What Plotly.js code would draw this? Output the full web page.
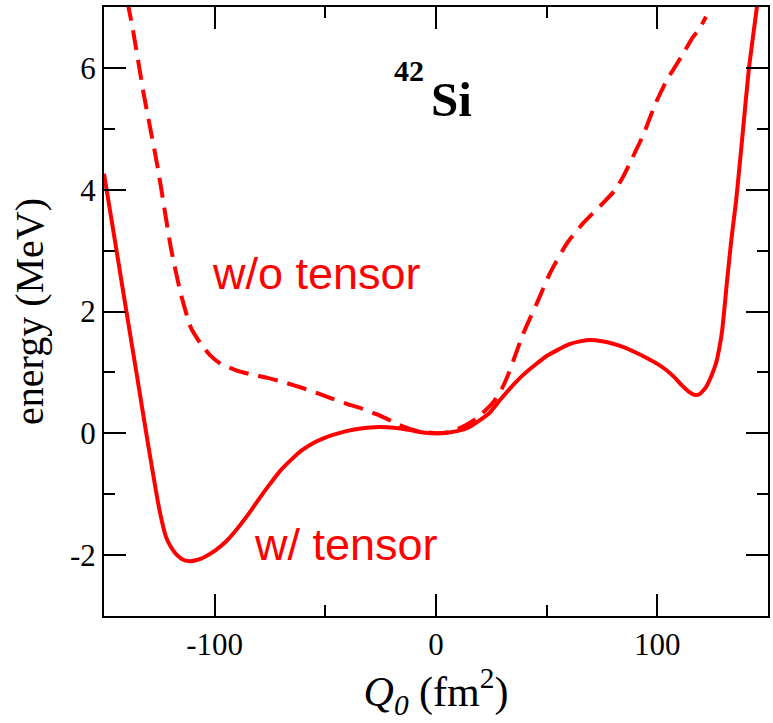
<!DOCTYPE html>
<html>
<head>
<meta charset="utf-8">
<script src="https://cdn.plot.ly/plotly-3.0.1.min.js"></script>
<style>html,body{margin:0;padding:0;background:#fff;}#chart{width:773px;height:723px;}</style>
</head>
<body>
<div id="chart"></div>
<script>
// with tensor force (solid)
const qWith = [-150, -145, -140, -135, -130, -125, -122, -120, -117, -114, -111, -108, -105, -100, -95, -91, -85, -80, -76, -70, -65, -61, -55, -50, -45, -40, -34, -28, -22, -16, -10, -5, 0, 5, 10, 15, 18, 24, 29, 35, 40, 45, 50, 55, 60, 65, 70, 75, 80, 85, 90, 95, 100, 104, 108, 111, 114, 117, 119, 122, 124.5, 126.5, 128, 129.3, 131.5, 133.5, 135.6, 138.5, 141.4, 145, 146];
const eWith = [4.26, 3.15, 2.03, 0.92, -0.2, -1.25, -1.7, -1.85, -2.0, -2.08, -2.1, -2.08, -2.04, -1.93, -1.78, -1.62, -1.34, -1.08, -0.88, -0.6, -0.42, -0.29, -0.15, -0.07, -0.01, 0.04, 0.08, 0.1, 0.1, 0.08, 0.04, 0.01, 0.0, 0.01, 0.04, 0.1, 0.17, 0.33, 0.55, 0.8, 0.98, 1.13, 1.27, 1.37, 1.46, 1.51, 1.53, 1.51, 1.47, 1.41, 1.33, 1.24, 1.14, 1.04, 0.91, 0.79, 0.69, 0.63, 0.64, 0.76, 0.95, 1.15, 1.4, 1.69, 2.5, 3.2, 3.82, 4.9, 6.0, 7.0, 7.3];
// without tensor force (dashed)
const qWithout = [-139.5, -137, -132, -125.7, -119.8, -115.3, -110.8, -106.3, -102, -97.3, -90, -83.8, -76, -68.9, -60, -53, -47, -40, -33, -26.6, -20, -16.2, -8.6, 0, 6, 12.2, 18.5, 25.7, 30, 33, 36, 39, 42, 45.5, 51.4, 59, 66.2, 75.2, 80.6, 84.2, 88.7, 94, 99, 104, 111.3, 116, 119, 122];
const eWithout = [7.1, 6.64, 5.56, 4.36, 3.05, 2.29, 1.74, 1.47, 1.28, 1.14, 1.03, 0.97, 0.91, 0.84, 0.74, 0.65, 0.57, 0.48, 0.4, 0.31, 0.2, 0.13, 0.04, 0.0, 0.02, 0.11, 0.25, 0.5, 0.75, 1.0, 1.3, 1.6, 1.85, 2.13, 2.62, 3.11, 3.44, 3.77, 3.98, 4.19, 4.52, 4.93, 5.4, 5.78, 6.21, 6.5, 6.64, 6.84];
const xTickVals = [-100, 0, 100];
const xTickText = ['-100', '0', '100'];
const yTickVals = [-2, 0, 2, 4, 6];
const yTickText = ['-2', '0', '2', '4', '6'];

const serif = 'Liberation Serif, Times New Roman, serif';
const red = '#ff0000';

const traces = [
  {x: qWithout, y: eWithout, mode: 'lines', type: 'scatter', line: {color: red, width: 4, dash: '20px,10px', shape: 'spline', smoothing: 0.5}, showlegend: false, hoverinfo: 'skip'},
  {x: qWith, y: eWith, mode: 'lines', type: 'scatter', line: {color: red, width: 4, shape: 'spline', smoothing: 0.5}, showlegend: false, hoverinfo: 'skip'}
];

const axCommon = {
  showline: true, linecolor: '#000', linewidth: 2, mirror: 'ticks',
  ticks: 'inside', ticklen: 22, tickwidth: 2, tickcolor: '#000',
  showgrid: false, zeroline: false,
  tickfont: {family: serif, size: 31, color: '#000'}
};

const layout = {
  width: 773, height: 723,
  margin: {l: 104, r: 5, t: 7, b: 107},
  paper_bgcolor: '#fff', plot_bgcolor: '#fff',
  xaxis: Object.assign({}, axCommon, {
    range: [-150, 150], tickmode: 'array', tickvals: xTickVals, ticktext: xTickText,
    minor: {ticks: 'inside', ticklen: 11, tickwidth: 2, tickcolor: '#000', dtick: 50, tick0: 0, showgrid: false},
    title: {text: '<i>Q</i><sub><i>0</i></sub> (fm<sup>2</sup>)', font: {family: serif, size: 42, color: '#000'}, standoff: 9}
  }),
  yaxis: Object.assign({}, axCommon, {
    range: [-3, 7], tickmode: 'array', tickvals: yTickVals, ticktext: yTickText,
    minor: {ticks: 'inside', ticklen: 11, tickwidth: 2, tickcolor: '#000', dtick: 1, tick0: 0, showgrid: false},
    title: {text: 'energy (MeV)', font: {family: serif, size: 40, color: '#000'}, standoff: 14}
  }),
  annotations: [
    {x: -54, y: 2.62, xref: 'x', yref: 'y', text: 'w/o tensor', showarrow: false, font: {family: 'Liberation Sans, Arial, sans-serif', size: 45, color: red}},
    {x: -40.5, y: -1.82, xref: 'x', yref: 'y', text: 'w/ tensor', showarrow: false, font: {family: 'Liberation Sans, Arial, sans-serif', size: 45, color: red}},
    {x: -20, y: 5.95, xref: 'x', yref: 'y', text: '<b>42</b>', showarrow: false, xanchor: 'left', font: {family: serif, size: 30, color: '#000'}},
    {x: -3, y: 5.48, xref: 'x', yref: 'y', text: '<b>Si</b>', showarrow: false, xanchor: 'left', font: {family: serif, size: 49, color: '#000'}}
  ]
};

Plotly.newPlot('chart', traces, layout, {staticPlot: true, displayModeBar: false});
</script>
</body>
</html>
